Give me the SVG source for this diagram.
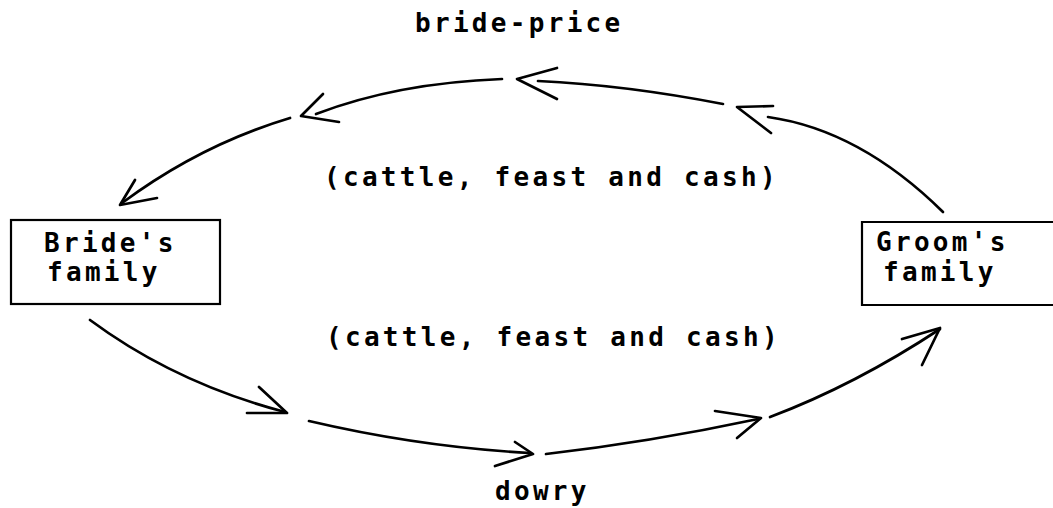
<svg xmlns="http://www.w3.org/2000/svg" width="1053" height="508" viewBox="0 0 1053 508">
<style>
  .t { font-family: "DejaVu Sans Mono", "Liberation Mono", monospace; font-size: 26px; font-weight: bold; letter-spacing: 3.3px; fill: #000; }
  .box { fill: none; stroke: #000; stroke-width: 2.2; }
  .ln { fill: none; stroke: #000; stroke-width: 2.7; stroke-linecap: round; stroke-linejoin: round; }
</style>
<rect width="1053" height="508" fill="#fff"/>
<g id="label-bride-price"><text class="t" x="415" y="32">bride-price</text></g>
<g id="label-upper-goods"><text class="t" x="324" y="186">(cattle, feast and cash)</text></g>
<g id="label-lower-goods"><text class="t" x="326" y="346">(cattle, feast and cash)</text></g>
<g id="label-dowry"><text class="t" x="495" y="500">dowry</text></g>
<g id="brides-family">
  <rect class="box" x="11" y="220" width="209" height="84"/>
  <text class="t" x="44" y="252">Bride's</text>
  <text class="t" x="47" y="281">family</text>
</g>
<g id="grooms-family">
  <path class="box" d="M1053,222 H862 V305 H1053"/>
  <text class="t" x="876" y="251">Groom's</text>
  <text class="t" x="883" y="281">family</text>
</g>
<g id="connectors">
  <path class="ln" d="M943,212 Q860,130 768,117"/>
  <polyline class="ln" points="773,106 737,107 771,133"/>
  <path class="ln" d="M723,104 Q625,85 538,81"/>
  <polyline class="ln" points="557,68 517,79 557,99"/>
  <path class="ln" d="M502,79 Q397,83 316,114"/>
  <polyline class="ln" points="323,94 301,116 339,122"/>
  <path class="ln" d="M290,118 Q200,145 122,203"/>
  <polyline class="ln" points="135,180 120,205 157,198"/>
  <path class="ln" d="M90,320 Q175,383 285,412"/>
  <polyline class="ln" points="259,387 287,413 247,413"/>
  <path class="ln" d="M309,421 Q420,447 530,453"/>
  <polyline class="ln" points="515,442 533,454 495,466"/>
  <path class="ln" d="M546,454 Q650,442 758,419"/>
  <polyline class="ln" points="715,411 761,418 737,438"/>
  <path class="ln" d="M770,417 Q855,385 940,329"/>
  <polyline class="ln" points="902,339 940,328 922,365"/>
</g>
</svg>
